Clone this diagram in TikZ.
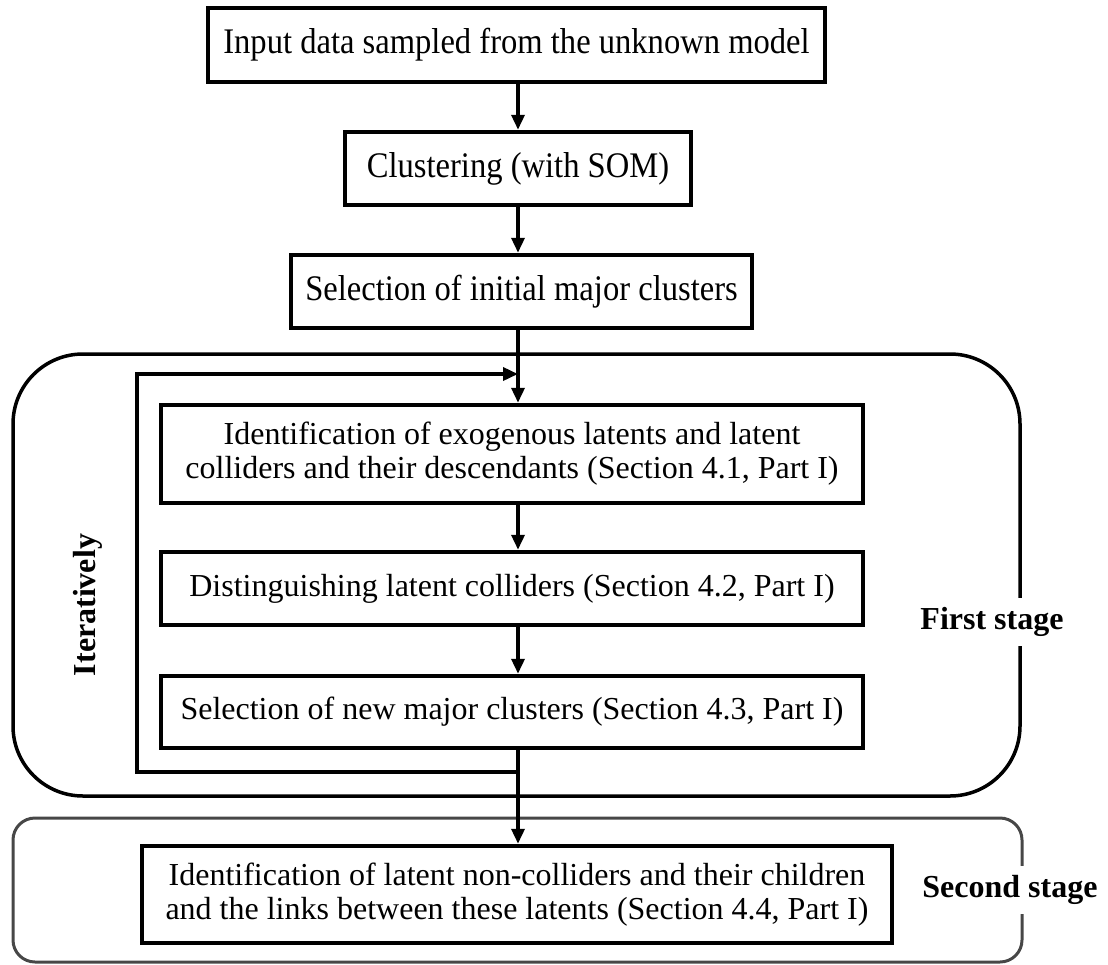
\documentclass[tikz,border=0pt]{standalone}
\usepackage{fontspec}
\setmainfont{Liberation Serif}
\newfontfamily\tallserif{Liberation Serif}[FakeStretch=0.905]
\usetikzlibrary{arrows.meta}
\begin{document}
\begin{tikzpicture}[x=1pt,y=-1pt,
  font=\fontsize{32pt}{34pt}\selectfont,
  stepbox/.style={draw,line width=4.5pt,inner sep=0pt,align=center},
  topbox/.style={stepbox,font=\tallserif\fontsize{36pt}{38pt}\selectfont},
  arr/.style={line width=3.5pt,-{Triangle[length=15pt,width=13pt]}},
  loopline/.style={line width=3.5pt},
  stagelabel/.style={fill=white,font=\fontsize{32pt}{34pt}\selectfont\bfseries,inner xsep=2pt,inner ysep=9pt}]
\useasboundingbox (0,0) rectangle (1108,964);

% stage frames
\draw[line width=3.5pt,rounded corners=70pt] (13,354) rectangle (1020,796);
\draw[line width=3pt,black!72,rounded corners=22pt] (13,818) rectangle (1022,962);

% process steps
\node[topbox,minimum width=617pt,minimum height=74pt] (b1) at (516.5,45) {Input data sampled from the unknown model};
\node[topbox,minimum width=346pt,minimum height=73pt] (b2) at (518,168.5) {Clustering (with SOM)};
\node[topbox,minimum width=461pt,minimum height=73pt] (b3) at (521.5,291.5) {Selection of initial major clusters};
\node[stepbox,minimum width=702pt,minimum height=98pt] (b4) at (512,454) {Identification of exogenous latents and latent\\colliders and their descendants (Section 4.1, Part I)};
\node[stepbox,minimum width=702pt,minimum height=73pt] (b5) at (512,588.5) {Distinguishing latent colliders (Section 4.2, Part I)};
\node[stepbox,minimum width=702pt,minimum height=72pt] (b6) at (512,712) {Selection of new major clusters (Section 4.3, Part I)};
\node[stepbox,minimum width=750pt,minimum height=97pt] (b7) at (517,894.5) {Identification of latent non-colliders and their children\\and the links between these latents (Section 4.4, Part I)};

% main flow axis and loop corners
\coordinate (ax) at (518,0);
\coordinate (ltop) at (137,374);
\coordinate (lbot) at (137,772);

\draw[arr] (b1.south -| ax) -- (b2.north -| ax);
\draw[arr] (b2.south -| ax) -- (b3.north -| ax);
\draw[arr] (b3.south -| ax) -- (b4.north -| ax);
\draw[arr] (b4.south -| ax) -- (b5.north -| ax);
\draw[arr] (b5.south -| ax) -- (b6.north -| ax);
\draw[arr] (b6.south -| ax) -- (b7.north -| ax);

% feedback loop
\draw[loopline] (lbot -| ax) -- (lbot) -- (ltop);
\draw[arr] ([xshift=-1.75pt]ltop) -- (ltop -| ax);

% labels
\node[font=\fontsize{32pt}{34pt}\selectfont\bfseries,rotate=90] (iter) at (88,605) {Iteratively};
\node[stagelabel] (s1) at (992,622) {First stage};
\node[stagelabel] (s2) at (1010,890) {Second stage};
\end{tikzpicture}
\end{document}
